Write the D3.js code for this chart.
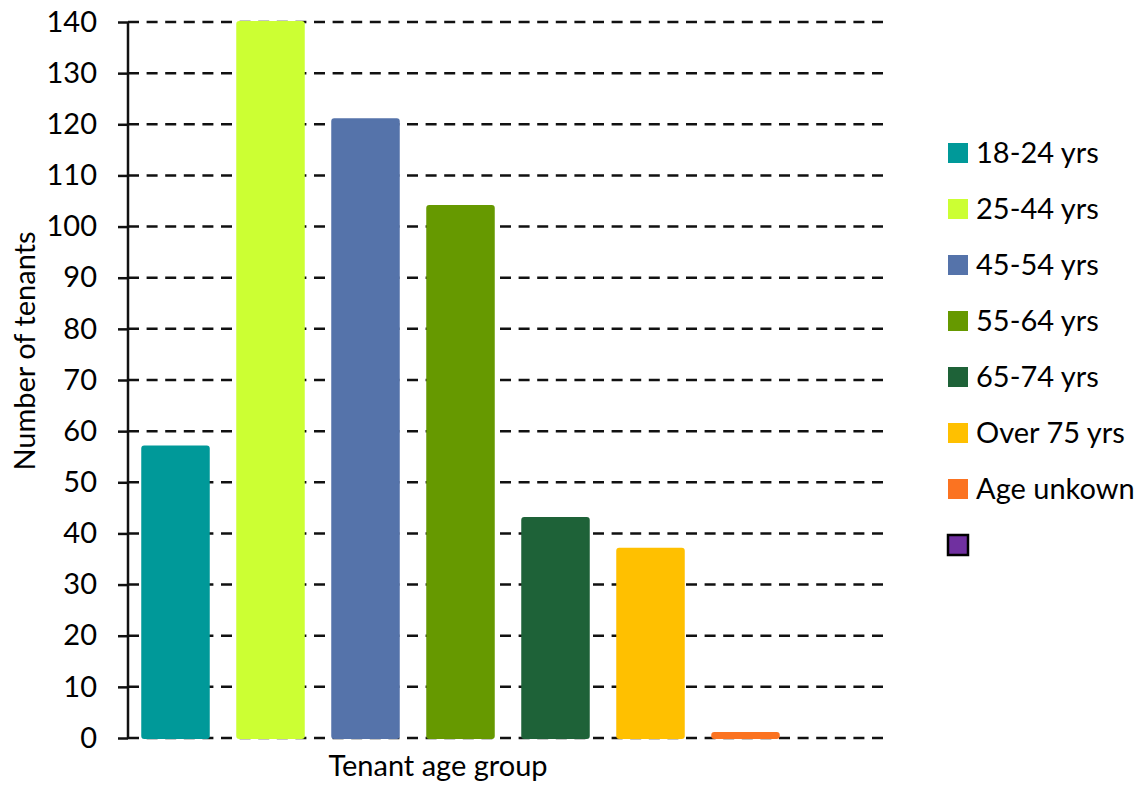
<!DOCTYPE html>
<html>
<head>
<meta charset="utf-8">
<script src="https://cdn.jsdelivr.net/npm/d3@7"></script>
<style>
  html, body { margin: 0; padding: 0; background: #fff; }
  svg { display: block; font-family: Lato, "Open Sans", sans-serif; }
</style>
</head>
<body>
<svg id="chart" width="1145" height="785"></svg>
<script>
// Tenants by age group
const categories = ["18-24 yrs", "25-44 yrs", "45-54 yrs", "55-64 yrs", "65-74 yrs", "Over 75 yrs", "Age unkown", ""];
const tenants = [57, 140, 121, 104, 43, 37, 1, 0];
const colors = ["#009999", "#CCFF33", "#5573AA", "#669900", "#1E6238", "#FFC000", "#FB7321", "#7030A0"];
const yTicks = [0, 10, 20, 30, 40, 50, 60, 70, 80, 90, 100, 110, 120, 130, 140];

const svg = d3.select("#chart");
const margin = { left: 128, right: 260, top: 22, bottom: 47 };
const W = 1145, H = 785;
const plotRight = W - margin.right;
const plotBottom = H - margin.bottom;
const fontSize = 29;

const x = d3.scaleBand().domain(categories.map((c, i) => i)).range([margin.left, margin.left + 8 * 95]).paddingInner(0.3).paddingOuter(0.15);
const y = d3.scaleLinear().domain([0, 140]).range([plotBottom, margin.top]);

// dashed gridlines
svg.append("g")
  .selectAll("line")
  .data(yTicks)
  .join("line")
  .attr("x1", margin.left)
  .attr("x2", plotRight)
  .attr("y1", d => y(d))
  .attr("y2", d => y(d))
  .attr("stroke", "#111")
  .attr("stroke-width", 2.5)
  .attr("stroke-dasharray", "11,7.6");

// bars
svg.append("g")
  .selectAll("rect")
  .data(tenants.map((v, i) => ({ v, i })).filter(d => d.v > 0))
  .join("rect")
  .attr("x", d => x(d.i))
  .attr("width", x.bandwidth())
  .attr("y", d => y(d.v))
  .attr("height", d => y(0) - y(d.v))
  .attr("rx", 2)
  .attr("fill", d => colors[d.i])
  .attr("stroke", d => colors[d.i])
  .attr("stroke-width", 2);

// y axis
const yAxis = d3.axisLeft(y).tickValues(yTicks).tickSize(10).tickPadding(21).tickSizeOuter(0);
const gy = svg.append("g")
  .attr("transform", `translate(${margin.left},0)`)
  .call(yAxis);
gy.select(".domain").attr("stroke", "#111").attr("stroke-width", 2.5).attr("d", `M0,${y(0)}V${y(140)}`);
gy.selectAll(".tick line").attr("stroke", "#111").attr("stroke-width", 2.5);
gy.selectAll(".tick text").attr("font-size", fontSize).attr("fill", "#000").attr("font-family", "Lato, sans-serif");

// axis titles
svg.append("text")
  .attr("x", 438)
  .attr("y", 776)
  .attr("text-anchor", "middle")
  .attr("font-size", fontSize)
  .attr("fill", "#000")
  .text("Tenant age group");

svg.append("text")
  .attr("transform", `translate(35,351) rotate(-90)`)
  .attr("text-anchor", "middle")
  .attr("font-size", fontSize)
  .attr("fill", "#000")
  .text("Number of tenants");

// legend
const legend = svg.append("g")
  .selectAll("g")
  .data(categories)
  .join("g")
  .attr("transform", (d, i) => `translate(948,${153 + i * 56})`);

legend.append("rect")
  .attr("x", 0)
  .attr("y", -10)
  .attr("width", 20)
  .attr("height", 20)
  .attr("fill", (d, i) => colors[i])
  .attr("stroke", (d, i) => d === "" ? "#000" : "none")
  .attr("stroke-width", 2.5);

legend.append("text")
  .attr("x", 28)
  .attr("y", 0)
  .attr("dy", "0.36em")
  .attr("font-size", fontSize)
  .attr("fill", "#000")
  .text(d => d);
</script>
</body>
</html>
